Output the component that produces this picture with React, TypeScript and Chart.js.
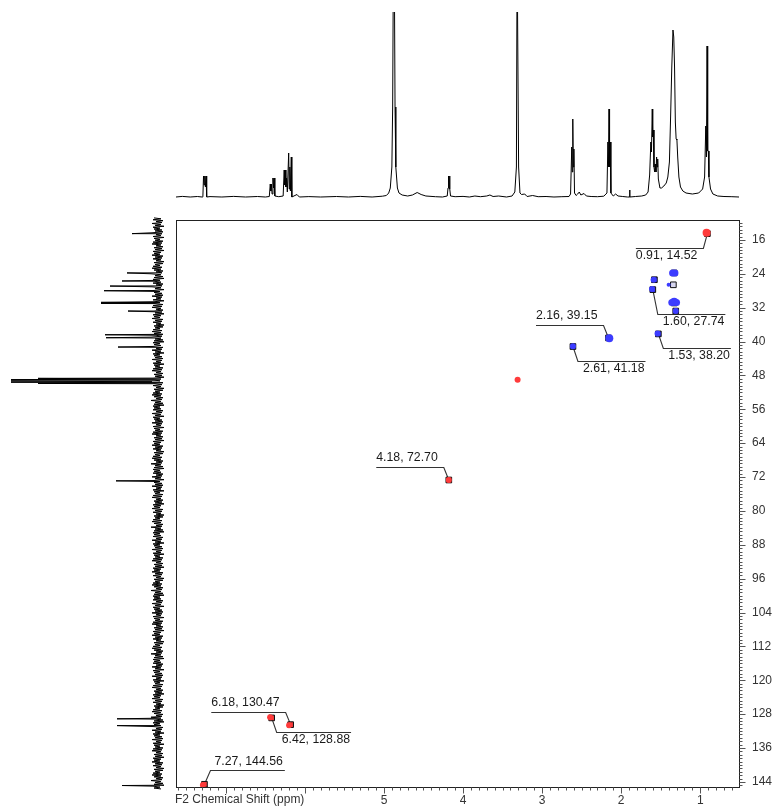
import React, { useEffect, useRef } from 'react';
import { Chart, registerables } from 'chart.js';
Chart.register(...registerables);

// ---- axis ranges & tick labels ----
const X_MIN = 0.51;
const X_MAX = 7.63;
const Y_MIN = 11.3;
const Y_MAX = 145.2;
const X_TICK_LABELS = [1, 2, 3, 4, 5];
const Y_TICK_LABELS = [16, 24, 32, 40, 48, 56, 64, 72, 80, 88, 96, 104, 112, 120, 128, 136, 144];
const X_TITLE = 'F2 Chemical Shift (ppm)';

// ---- 2D cross peaks (1H ppm, 13C ppm) ----
const PEAK_H = [0.91, 1.33, 1.58, 1.34, 1.60, 1.33, 1.31, 1.53, 2.16, 2.61, 4.18, 6.18, 6.42, 7.27];
const PEAK_C = [14.52, 23.8, 25.4, 26.6, 27.74, 30.9, 32.8, 38.20, 39.15, 41.18, 72.70, 130.47, 128.88, 144.56];
const PEAK_PHASE = ['+', '-', '-', '0', '-', '-', '-', '-', '-', '-', '+', '+', '+', '+'];
const PEAK_LABEL = ['0.91, 14.52', '', '', '', '1.60, 27.74', '', '', '1.53, 38.20', '2.16, 39.15', '2.61, 41.18', '4.18, 72.70', '6.18, 130.47', '6.42, 128.88', '7.27, 144.56'];
// label placement style: u/d = above/below, l/r = line direction, L = long leader
const LABEL_SIDE = ['dl', '', '', '', 'drL', '', '', 'dr', 'ul', 'dr', 'ul', 'ul', 'dr', 'ur'];

// ---- contour blobs ----
const BLOB_H = [0.92, 1.32, 1.35, 1.59, 1.40, 1.61, 1.30, 1.33, 1.36, 1.31, 1.54, 2.15, 2.61, 3.31, 4.18, 6.20, 6.44, 7.29];
const BLOB_C = [14.3, 23.8, 23.8, 25.4, 26.6, 27.6, 30.8, 30.6, 30.8, 32.8, 38.1, 39.2, 41.1, 49.0, 72.7, 130.6, 128.7, 144.7];
const BLOB_R = [4, 3.5, 3.5, 3, 2, 3, 3.5, 4, 3.5, 3, 3, 4, 3, 3, 3, 3, 3, 3];
const BLOB_PHASE = ['+', '-', '-', '-', '-', '-', '-', '-', '-', '-', '-', '-', '-', '+', '+', '+', '+', '+'];

// ---- 1H projection trace (ppm, intensity) ----
const H_TRACE: [number, number][] = [
  [7.63, 0], [7.55, 0.6], [7.45, 0], [7.36, 0.5], [7.30, 0], [7.29, 0.5], [7.282, 21], [7.274, 12], [7.266, 21], [7.258, 10], [7.25, 21], [7.242, 0],
  [7.20, 0.4], [7.05, 0], [6.90, 0.6], [6.75, 0], [6.60, 0.5], [6.50, 0], [6.45, 0.5], [6.438, 13], [6.431, 6], [6.424, 13], [6.415, 3], [6.404, 19], [6.397, 9], [6.39, 19], [6.38, 1],
  [6.33, 0.3], [6.275, 1], [6.262, 27], [6.255, 12], [6.247, 27], [6.24, 10], [6.232, 19], [6.222, 5], [6.205, 44], [6.198, 8], [6.19, 30], [6.183, 6], [6.172, 40], [6.165, 0],
  [6.10, 2.5], [6.07, 0], [5.95, 0.4], [5.8, 0], [5.6, 0.5], [5.45, 0], [5.3, 0.6], [5.15, 0], [5.02, 0.8], [4.97, 1.5], [4.94, 4], [4.92, 9], [4.90, 30], [4.89, 90],
  [4.88, 250], [4.87, 250], [4.86, 90], [4.85, 30], [4.83, 9], [4.81, 4], [4.77, 2], [4.70, 1], [4.64, 2], [4.58, 4.5], [4.53, 2.5], [4.47, 1], [4.35, 0.3], [4.26, 0],
  [4.20, 1], [4.19, 9], [4.183, 21], [4.177, 9], [4.171, 21], [4.165, 8], [4.158, 1], [4.10, 0.3], [4.0, 0.6], [3.92, 0], [3.85, 1], [3.78, 0.3], [3.70, 1], [3.66, 2],
  [3.62, 0.5], [3.55, 1], [3.45, 0], [3.38, 1], [3.345, 5], [3.325, 30], [3.316, 250], [3.306, 250], [3.297, 30], [3.28, 4], [3.26, 2.5], [3.22, 3], [3.19, 0.5],
  [3.12, 1.5], [3.05, 0.3], [2.95, 0.5], [2.85, 0], [2.75, 0.3], [2.66, 0.5], [2.64, 3], [2.625, 50], [2.619, 25], [2.612, 78], [2.605, 30], [2.598, 48], [2.59, 4],
  [2.57, 1.5], [2.55, 3], [2.53, 5], [2.51, 2], [2.47, 3.5], [2.44, 1], [2.38, 0.5], [2.3, 0.3], [2.22, 0.8], [2.18, 4], [2.168, 55], [2.161, 30], [2.154, 88],
  [2.147, 30], [2.14, 55], [2.13, 4], [2.10, 1], [2.07, 3], [2.04, 1], [1.98, 0.5], [1.92, 0], [1.895, 0], [1.893, 7], [1.889, 0], [1.82, 0.5], [1.74, 1], [1.69, 2],
  [1.66, 5], [1.64, 22], [1.625, 55], [1.617, 45], [1.607, 88], [1.601, 60], [1.594, 67], [1.585, 30], [1.577, 25], [1.57, 33], [1.56, 25], [1.552, 40], [1.545, 30],
  [1.538, 38], [1.53, 18], [1.51, 9], [1.49, 9], [1.46, 11], [1.43, 14], [1.41, 20], [1.39, 35], [1.375, 80], [1.36, 130], [1.345, 167], [1.335, 160], [1.325, 130],
  [1.315, 75], [1.305, 58], [1.295, 57], [1.285, 40], [1.27, 20], [1.25, 10], [1.22, 6], [1.18, 4], [1.10, 3], [1.02, 4], [0.97, 8], [0.945, 20], [0.93, 71],
  [0.922, 40], [0.914, 151], [0.906, 46], [0.898, 46], [0.89, 20], [0.87, 8], [0.84, 3], [0.78, 1], [0.70, 0.5], [0.6, 0.3], [0.51, 0],
];

// ---- 13C projection: peaks and baseline noise ----
const C_SHIFT = [14.52, 23.8, 25.7, 26.9, 28.0, 30.75, 31.0, 32.8, 38.4, 39.1, 41.3, 48.7, 49.0, 49.3, 49.6, 49.9, 72.9, 129.1, 130.7, 144.85];
const C_HEIGHT = [26, 31, 36, 48, 54, 57, 57, 30, 53, 52, 40, 120, 147, 147, 147, 120, 42, 41, 41, 36];
const C_NOISE = [4, -3, 5, -5, 2, -4, 6, -3, 3, -6, 5, -2, 4, -4, 3, -5, 6, -4, 2, -3, 5, -6, 4, -2, 3, -5, 5, -4, 6, -3, 2, -5, 4, -4, 3, -6, 5, -3, 4, -2, 6, -5, 3, -4, 5, -3, 2, -6, 4, -5, 3, -2, 5, -4, 6, -3, 4, -5, 2, -4, 7, -3, 3, -5, 4, -6, 5, -2];
const C_NOISE_START = 10.8;
const C_NOISE_END = 145.7;
const C_NOISE_STEP = 0.22;

const FONT = '"Liberation Sans", Arial, sans-serif';
const POS = '#ff3b3b';
const NEG = '#3c3cff';

function phaseColor(p: string, light: boolean) {
  if (p === '+') return light ? POS : '#f03a3a';
  if (p === '-') return light ? NEG : '#2f2fe6';
  return '#d6d6ee';
}

const zeroPad = (s: any) => {
  s.paddingTop = 0; s.paddingBottom = 0; s.paddingLeft = 0; s.paddingRight = 0;
};

const decorPlugin = {
  id: 'hsqcDecor',
  beforeDatasetsDraw(chart: any) {
    const { ctx, scales: { x, y } } = chart;
    ctx.save();
    ctx.font = `12.3px ${FONT}`;
    ctx.strokeStyle = '#333';
    ctx.lineWidth = 1.1;
    ctx.fillStyle = '#1a1a1a';
    ctx.textBaseline = 'middle';
    PEAK_LABEL.forEach((t, k) => {
      if (!t) return;
      const px = x.getPixelForValue(PEAK_H[k]);
      const py = y.getPixelForValue(PEAK_C[k]);
      const w = ctx.measureText(t).width;
      const L = w + 6;
      const side = LABEL_SIDE[k];
      const drop = side.endsWith('L') ? 24 : 14;
      let ex = px, ey = py, endX = px, tx = px, ty = py;
      if (side.startsWith('ul')) { ex = px - 5; ey = py - 13; endX = ex - L; tx = endX; ty = ey - 9; }
      else if (side.startsWith('dr')) { ex = px + 5; ey = py + drop; endX = ex + L; tx = endX - 1 - w; ty = ey + 8; }
      else if (side.startsWith('ur')) { ex = px + 6; ey = py - 14; endX = ex + L; tx = ex + 4; ty = ey - 9; }
      else if (side.startsWith('dl')) { ex = px - 4; ey = py + drop; endX = ex - L; tx = endX; ty = ey + 8; }
      const ry = Math.round(ey) + 0.5;
      ctx.beginPath();
      ctx.moveTo(px, py);
      ctx.lineTo(ex, ry);
      ctx.lineTo(endX, ry);
      ctx.stroke();
      ctx.textAlign = 'left';
      ctx.fillText(t, tx, ty);
    });
    ctx.restore();
  },
  afterDraw(chart: any) {
    const { ctx, chartArea: a, scales: { x, y } } = chart;
    ctx.save();
    ctx.strokeStyle = '#222';
    ctx.lineWidth = 1;
    const L = Math.round(a.left) + 0.5, T = Math.round(a.top) + 0.5;
    const R = Math.round(a.right) + 0.5, B = Math.round(a.bottom) + 0.5;
    ctx.strokeRect(L, T, R - L, B - T);
    ctx.strokeStyle = '#555';
    ctx.beginPath();
    for (let i = Math.ceil(X_MIN * 10); i <= Math.floor(X_MAX * 10); i++) {
      const px = Math.round(x.getPixelForValue(i / 10)) + 0.5;
      const len = i % 10 === 0 ? 6 : 3;
      ctx.moveTo(px, B);
      ctx.lineTo(px, B + len);
    }
    for (let i = Math.ceil(Y_MIN / 0.8); i * 0.8 <= Y_MAX; i++) {
      const py = Math.round(y.getPixelForValue(i * 0.8)) + 0.5;
      const len = i % 10 === 0 ? 6 : 3;
      ctx.moveTo(R, py);
      ctx.lineTo(R + len, py);
    }
    ctx.stroke();
    ctx.fillStyle = '#333';
    ctx.font = `12px ${FONT}`;
    ctx.textAlign = 'left';
    ctx.textBaseline = 'top';
    ctx.fillText(X_TITLE, a.left - 1, a.bottom + 7);
    ctx.restore();
  },
};

function mainConfig(): any {
  const blobs = BLOB_H.map((h, i) => ({ x: h, y: BLOB_C[i] }));
  const markers = PEAK_H.map((h, i) => ({ x: h, y: PEAK_C[i] }));
  return {
    type: 'scatter',
    data: {
      datasets: [
        {
          data: blobs,
          pointStyle: 'circle',
          pointRadius: BLOB_R,
          backgroundColor: BLOB_PHASE.map((p) => phaseColor(p, true)),
          borderWidth: 0,
        },
        {
          data: markers,
          pointStyle: 'rect',
          pointRadius: 4,
          backgroundColor: PEAK_PHASE.map((p) => phaseColor(p, false)),
          borderColor: '#111',
          borderWidth: 1,
        },
      ],
    },
    options: {
      animation: false,
      responsive: false,
      maintainAspectRatio: false,
      events: [],
      layout: { padding: { left: 6, top: 6, right: 0, bottom: 0 } },
      plugins: { legend: { display: false }, tooltip: { enabled: false } },
      scales: {
        x: {
          type: 'linear',
          position: 'bottom',
          reverse: true,
          min: X_MIN,
          max: X_MAX,
          grid: { display: false, drawTicks: false },
          border: { display: false },
          afterBuildTicks: (s: any) => { s.ticks = X_TICK_LABELS.map((v) => ({ value: v })); },
          afterFit: (s: any) => { s.height = 24; zeroPad(s); },
          ticks: { padding: 6, autoSkip: false, maxRotation: 0, color: '#333', font: { family: FONT, size: 12 }, callback: (v: any) => String(v) },
        },
        y: {
          type: 'linear',
          position: 'right',
          reverse: true,
          min: Y_MIN,
          max: Y_MAX,
          grid: { display: false, drawTicks: false },
          border: { display: false },
          afterBuildTicks: (s: any) => { s.ticks = Y_TICK_LABELS.map((v) => ({ value: v })); },
          afterFit: (s: any) => { s.width = 34; zeroPad(s); },
          ticks: { padding: 13, autoSkip: false, color: '#333', font: { family: FONT, size: 12 }, callback: (v: any) => String(v) },
        },
      },
    },
    plugins: [decorPlugin],
  };
}

function topConfig(): any {
  return {
    type: 'scatter',
    data: {
      datasets: [
        {
          data: H_TRACE.map(([p, v]) => ({ x: p, y: v })),
          showLine: true,
          pointRadius: 0,
          borderColor: '#000',
          borderWidth: 1,
          tension: 0,
        },
      ],
    },
    options: {
      animation: false,
      responsive: false,
      maintainAspectRatio: false,
      events: [],
      layout: { padding: { left: 6, right: 34, top: 12, bottom: 15 } },
      plugins: { legend: { display: false }, tooltip: { enabled: false } },
      scales: {
        x: { type: 'linear', display: false, reverse: true, min: X_MIN, max: X_MAX },
        y: { type: 'linear', display: false, min: -2, max: 185 },
      },
    },
  };
}

function leftConfig(): any {
  const pts: { x: number; y: number }[] = [];
  let k = 0;
  for (let v = C_NOISE_START; v <= C_NOISE_END; v += C_NOISE_STEP) {
    pts.push({ x: C_NOISE[k % C_NOISE.length], y: v });
    k++;
  }
  C_SHIFT.forEach((s, i) => pts.push({ x: C_HEIGHT[i], y: s }));
  pts.sort((a, b) => a.y - b.y);
  return {
    type: 'scatter',
    data: {
      datasets: [
        {
          data: pts,
          showLine: true,
          pointRadius: 0,
          borderColor: '#000',
          borderWidth: 1,
          tension: 0,
          clip: false,
        },
      ],
    },
    options: {
      animation: false,
      responsive: false,
      maintainAspectRatio: false,
      events: [],
      layout: { padding: { left: 8, right: 5, top: 6, bottom: 24 } },
      plugins: { legend: { display: false }, tooltip: { enabled: false } },
      scales: {
        x: { type: 'linear', display: false, reverse: true, min: -7, max: 150 },
        y: { type: 'linear', display: false, reverse: true, min: Y_MIN, max: Y_MAX },
      },
    },
  };
}

export default function App() {
  const topRef = useRef<HTMLCanvasElement>(null);
  const leftRef = useRef<HTMLCanvasElement>(null);
  const mainRef = useRef<HTMLCanvasElement>(null);
  useEffect(() => {
    const charts = [
      new Chart(topRef.current as HTMLCanvasElement, topConfig()),
      new Chart(leftRef.current as HTMLCanvasElement, leftConfig()),
      new Chart(mainRef.current as HTMLCanvasElement, mainConfig()),
    ];
    return () => charts.forEach((c) => c.destroy());
  }, []);
  return (
    <div style={{ position: 'absolute', left: 0, top: 0, width: 773, height: 811, background: '#fff', overflow: 'hidden' }}>
      <canvas ref={topRef} width={603} height={214} style={{ position: 'absolute', left: 170, top: 0, width: 603, height: 214 }} />
      <canvas ref={leftRef} width={170} height={597} style={{ position: 'absolute', left: 0, top: 214, width: 170, height: 597 }} />
      <canvas ref={mainRef} width={603} height={597} style={{ position: 'absolute', left: 170, top: 214, width: 603, height: 597 }} />
    </div>
  );
}
